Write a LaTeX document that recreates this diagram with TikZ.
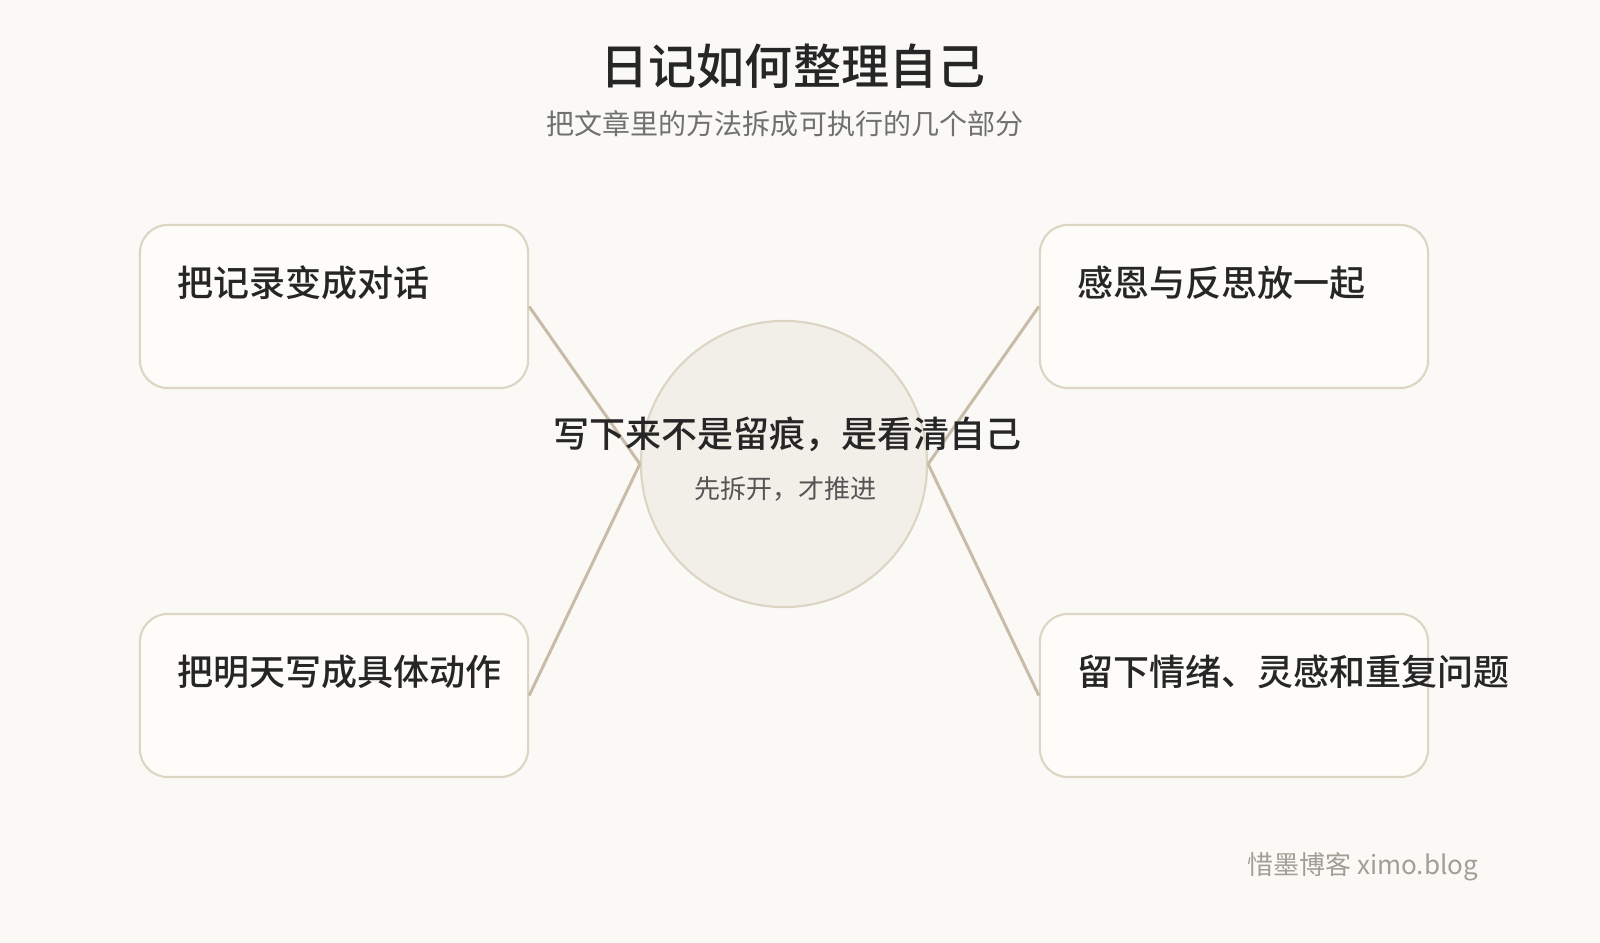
\documentclass[tikz,border=0pt]{standalone}
\usepackage{fontspec}
\setmainfont{Noto Sans CJK SC}[BoldFont={Noto Sans CJK SC Medium}]

\definecolor{bgpaper}{HTML}{FAF9F6}
\definecolor{cardfill}{HTML}{FDFCF9}
\definecolor{cardline}{HTML}{DDD5C4}
\definecolor{hubfill}{HTML}{F2EFE8}
\definecolor{linkcol}{HTML}{C8BCA8}
\definecolor{inkdark}{HTML}{262626}
\definecolor{inkgray}{HTML}{707070}
\definecolor{inkmid}{HTML}{555555}
\definecolor{markgray}{HTML}{A39E95}

\tikzset{
	card/.style={draw=cardline, fill=cardfill, line width=0.6pt, rounded corners=0.28cm,
		minimum width=3.88cm, minimum height=1.63cm, inner sep=0pt},
	hub/.style={circle, draw=cardline, fill=hubfill, line width=0.6pt,
		minimum size=2.86cm, inner sep=0pt},
	link/.style={draw=linkcol, line width=0.85pt},
	cardtext/.style={anchor=west, inner sep=0pt, text=inkdark,
		font=\fontsize{10.24pt}{12pt}\selectfont\bfseries}
}

\begin{document}
\begin{tikzpicture}[x=0.01cm, y=-0.01cm]
		\fill[bgpaper] (0,0) rectangle (1600,943);
		% title
		\node[text=inkdark, font=\fontsize{13.66pt}{16pt}\selectfont\bfseries] (title) at (793,66) {日记如何整理自己};
		\node[text=inkgray, font=\fontsize{7.97pt}{10pt}\selectfont] (subtitle) at (785,124) {把文章里的方法拆成可执行的几个部分};
		% hub and cards
		\node[hub] (hub) at (784,464) {};
		\foreach \n/\x/\y in {b1/334/306.5, b2/334/695.5, b3/1234/306.5, b4/1234/695.5}{
			\node[card] (\n) at (\x,\y) {};
		}
		\foreach \n/\s/\h in {b1/east/west, b2/east/west, b3/west/east, b4/west/east}{
			\draw[link] (\n.\s) -- (hub.\h);
		}
		\foreach \n/\t in {b1/把记录变成对话, b2/把明天写成具体动作, b3/感恩与反思放一起, b4/留下情绪、灵感和重复问题}{
			\node[cardtext] (\n-text) at ([xshift=0.38cm, yshift=0.235cm]\n.west) {\t};
		}
		\node[text=inkdark, font=\fontsize{10.24pt}{12pt}\selectfont\bfseries] (hub-title) at (787.5,434) {写下来不是留痕，是看清自己};
		\node[text=inkmid, font=\fontsize{7.4pt}{9pt}\selectfont] (hub-sub) at (785.5,489) {先拆开，才推进};
		% watermark
		\node[text=markgray, font=\fontsize{7.4pt}{9pt}\selectfont] (mark) at (1362.5,867) {惜墨博客 ximo.blog};
	\end{tikzpicture}
\end{document}
